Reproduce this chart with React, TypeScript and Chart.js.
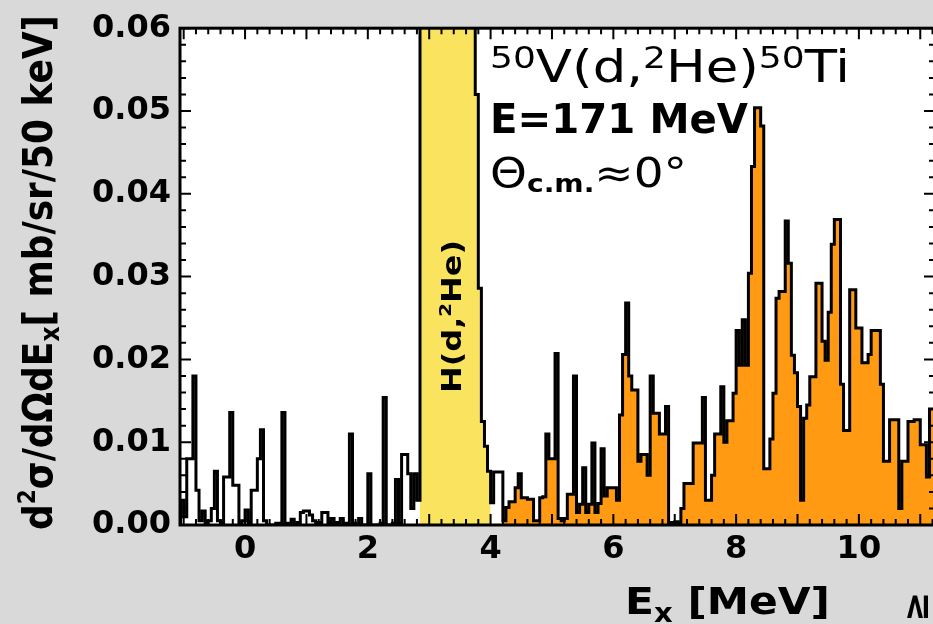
import React, { useEffect, useRef } from "react";
import { Chart, registerables } from "chart.js";

Chart.register(...registerables);

// Histogram binning (50 keV bins)
const BIN_START_MEV = -1.05;
const BIN_WIDTH_MEV = 0.05;

// bins from -1.05 MeV up to 2.85 MeV (white region)
const countsBelowPeak = [
  0.003, 0.001, 0.008, 0.008, 0.018, 0.0042, 0.0005, 0.0017, 0.0003, 0.0005,
  0.002, 0.0065, 0.0005, 0.0003, 0.0058, 0.0058, 0.0136, 0.0048, 0.0048, 0.0003,
  0.0005, 0.0018, 0.0003, 0.0042, 0.0042, 0.008, 0.0115, 0.0005, 0, 0,
  0, 0.0002, 0.0002, 0.0136, 0.0002, 0, 0.0007, 0, 0.0003, 0.0015,
  0.0017, 0.0017, 0.0012, 0.0005, 0.0003, 0.0003, 0.0015, 0.0015, 0.0003, 0.0008,
  0.0003, 0.0003, 0.0008, 0.0002, 0.0002, 0.011, 0.0002, 0, 0.0008, 0,
  0, 0.0062, 0, 0, 0, 0.0002, 0.0154, 0, 0, 0.0002,
  0.0055, 0.0002, 0.0085, 0.0085, 0.0062, 0.002, 0.0062, 0.003,
];

// H(d,2He) contamination peak, 2.85 MeV .. 4.0 MeV (yellow)
const countsHydrogenPeak = [
  0.075, 0.075, 0.075, 0.075, 0.075, 0.075, 0.075, 0.075, 0.075, 0.075,
  0.075, 0.075, 0.075, 0.075, 0.075, 0.075, 0.075, 0.075,
  0.052, 0.0286, 0.0125, 0.0095, 0.0065,
];

// short gap after the peak (white)
const countsGap = [0.0027, 0.0064, 0.0064, 0.0064];

// 50Ti states, from 4.2 MeV upward (orange)
const countsAbove = [
  0.0005, 0.0021, 0.0028, 0.0028, 0.0045, 0.0062, 0.0033, 0.0033, 0.0031, 0.0031,
  0.0005, 0.0005, 0.0033, 0.0034, 0.011, 0.008, 0.008, 0.0207, 0.0008, 0.0005,
  0.0008, 0.0037, 0.0037, 0.018, 0.0015, 0.0025, 0.0069, 0.0015, 0.0025, 0.0099,
  0.0015, 0.0026, 0.0092, 0.0035, 0.0045, 0.0045, 0.0045, 0.003, 0.0133, 0.0206,
  0.0268, 0.018, 0.0163, 0.0163, 0.0077, 0.0085, 0.0085, 0.006, 0.018, 0.0135,
  0.0135, 0.011, 0.011, 0.0143, 0.0003, 0.0003, 0.0004, 0.0002, 0.002, 0.005,
  0.005, 0.005, 0.0099, 0.0099, 0.0099, 0.0154, 0.003, 0.003, 0.006, 0.011,
  0.011, 0.0167, 0.01, 0.0126, 0.0126, 0.0159, 0.0235, 0.0193, 0.0248, 0.0193,
  0.0304, 0.0433, 0.0504, 0.0504, 0.0482, 0.0068, 0.0068, 0.0104, 0.0159, 0.0274,
  0.0282, 0.0282, 0.0367, 0.0316, 0.0205, 0.0184, 0.0143, 0.003, 0.0129, 0.0145,
  0.0179, 0.0179, 0.0292, 0.0292, 0.0222, 0.0199, 0.0257, 0.0339, 0.0369, 0.0369,
  0.017, 0.0114, 0.0114, 0.0284, 0.0284, 0.0238, 0.0238, 0.0196, 0.0196, 0.0206,
  0.0235, 0.0235, 0.0235, 0.017, 0.0077, 0.0077, 0.0127, 0.0127, 0.0127, 0.002,
  0.0077, 0.0077, 0.0125, 0.0125, 0.0127, 0.0127, 0.0097, 0.0097, 0.0058, 0.014,
  0.014,
];

const xTickLabels = [0, 2, 4, 6, 8, 10];
const yTickValues = [0, 0.01, 0.02, 0.03, 0.04, 0.05, 0.06];

const X_MIN = -1.06;
const X_MAX = 11.24;
const Y_MIN = 0;
const Y_MAX = 0.06;
const X_MINOR = 0.2;
const Y_MINOR = 0.002;

const FONT = '"DejaVu Sans"';

type Pt = { x: number; y: number };

function stepPoints(counts: number[], startIndex: number): Pt[] {
  const pts = counts.map((v, k) => ({
    x: BIN_START_MEV + (startIndex + k) * BIN_WIDTH_MEV,
    y: v,
  }));
  pts.push({
    x: BIN_START_MEV + (startIndex + counts.length) * BIN_WIDTH_MEV,
    y: counts[counts.length - 1],
  });
  return pts;
}

type Seg = { text: string; size: number; weight?: string; dy?: number };

function drawRich(
  ctx: CanvasRenderingContext2D,
  segs: Seg[],
  x: number,
  y: number,
  targetWidth: number | null,
  rotate = 0
) {
  ctx.save();
  ctx.translate(x, y);
  if (rotate) ctx.rotate(rotate);
  let total = 0;
  const widths = segs.map((s) => {
    ctx.font = `${s.weight ?? "normal"} ${s.size}px ${FONT}`;
    const w = ctx.measureText(s.text).width;
    total += w;
    return w;
  });
  const sx = targetWidth ? targetWidth / total : 1;
  ctx.scale(sx, 1);
  ctx.fillStyle = "#000";
  ctx.textBaseline = "alphabetic";
  ctx.textAlign = "left";
  let cx = 0;
  segs.forEach((s, k) => {
    ctx.font = `${s.weight ?? "normal"} ${s.size}px ${FONT}`;
    ctx.fillText(s.text, cx, s.dy ?? 0);
    cx += widths[k];
  });
  ctx.restore();
}

const framePlugin = {
  id: "frameAndTicks",
  beforeDatasetsDraw(chart: any) {
    const { ctx, chartArea: a } = chart;
    ctx.save();
    ctx.fillStyle = "#ffffff";
    ctx.fillRect(a.left, a.top, a.right - a.left, a.bottom - a.top);
    ctx.restore();
  },
  afterDatasetsDraw(chart: any) {
    const { ctx, chartArea: a, scales } = chart;
    const xs = scales.x;
    const ys = scales.y;
    ctx.save();
    ctx.strokeStyle = "#000";
    ctx.lineWidth = 2;
    ctx.beginPath();
    for (let k = Math.ceil(X_MIN / X_MINOR); k <= Math.floor(X_MAX / X_MINOR); k++) {
      const px = xs.getPixelForValue(k * X_MINOR);
      const len = k % 5 === 0 ? 11 : 6;
      ctx.moveTo(px, a.bottom);
      ctx.lineTo(px, a.bottom - len);
      ctx.moveTo(px, a.top);
      ctx.lineTo(px, a.top + len);
    }
    for (let k = 0; k <= Math.round(Y_MAX / Y_MINOR); k++) {
      const py = ys.getPixelForValue(k * Y_MINOR);
      const len = k % 5 === 0 ? 11 : 6;
      ctx.moveTo(a.left, py);
      ctx.lineTo(a.left + len, py);
      ctx.moveTo(a.right, py);
      ctx.lineTo(a.right - len, py);
    }
    ctx.stroke();
    ctx.lineWidth = 3;
    ctx.strokeRect(a.left, a.top, a.right - a.left, a.bottom - a.top);
    ctx.restore();
  },
  afterDraw(chart: any) {
    const ctx: CanvasRenderingContext2D = chart.ctx;
    // y-axis title
    drawRich(
      ctx,
      [
        { text: "d", size: 40, weight: "bold" },
        { text: "2", size: 24, weight: "bold", dy: -17 },
        { text: "σ/dΩdE", size: 40, weight: "bold" },
        { text: "x", size: 26, weight: "bold", dy: 7 },
        { text: "[ mb/sr/50 keV]", size: 40, weight: "bold" },
      ],
      52,
      530,
      515,
      -Math.PI / 2
    );
    // x-axis title
    drawRich(
      ctx,
      [
        { text: "E", size: 38, weight: "bold" },
        { text: "x", size: 26, weight: "bold", dy: 8 },
        { text: " [MeV]", size: 38, weight: "bold" },
      ],
      625,
      614,
      205
    );
    // cut-off symbol at bottom right
    drawRich(ctx, [{ text: "≥", size: 36, weight: "bold" }], 928, 622, null, -Math.PI / 2);
    // reaction annotation
    drawRich(
      ctx,
      [
        { text: "50", size: 30, dy: -14 },
        { text: "V(d,", size: 44 },
        { text: "2", size: 30, dy: -14 },
        { text: "He)", size: 44 },
        { text: "50", size: 30, dy: -14 },
        { text: "Ti", size: 44 },
      ],
      490,
      82,
      360
    );
    drawRich(ctx, [{ text: "E=171 MeV", size: 40, weight: "bold" }], 490, 133, 258);
    drawRich(
      ctx,
      [
        { text: "Θ", size: 40 },
        { text: "c.m.", size: 24, weight: "bold", dy: 5 },
        { text: "≈0°", size: 40 },
      ],
      490,
      187,
      197
    );
    // label inside the hydrogen peak
    drawRich(
      ctx,
      [
        { text: "H(d,", size: 26, weight: "bold" },
        { text: "2", size: 16, weight: "bold", dy: -10 },
        { text: "He)", size: 26, weight: "bold" },
      ],
      461,
      393,
      153,
      -Math.PI / 2
    );
  },
};

export default function App() {
  const canvasRef = useRef<HTMLCanvasElement | null>(null);

  useEffect(() => {
    if (!canvasRef.current) return;
    const allCounts = [...countsBelowPeak, ...countsHydrogenPeak, ...countsGap, ...countsAbove];
    const outline = [{ x: BIN_START_MEV, y: 0 }, ...stepPoints(allCounts, 0)];
    const hStart = countsBelowPeak.length;
    const highStart = hStart + countsHydrogenPeak.length + countsGap.length;

    const fillDefaults = {
      type: "line" as const,
      borderWidth: 0,
      borderColor: "rgba(0,0,0,0)",
      stepped: true,
      pointRadius: 0,
      fill: "origin",
    };

    const chart = new Chart(canvasRef.current, {
      type: "line",
      data: {
        datasets: [
          {
            label: "spectrum",
            data: outline,
            borderColor: "#000000",
            borderWidth: 3,
            stepped: true,
            pointRadius: 0,
            fill: false,
          },
          {
            ...fillDefaults,
            label: "H(d,2He)",
            data: stepPoints(countsHydrogenPeak, hStart),
            backgroundColor: "#f9e35f",
          },
          {
            ...fillDefaults,
            label: "50Ti",
            data: stepPoints(countsAbove, highStart),
            backgroundColor: "#ff9a12",
          },
        ] as any,
      },
      options: {
        animation: false,
        responsive: true,
        maintainAspectRatio: false,
        layout: { padding: { left: 0, top: 21, right: 25, bottom: 0 } },
        plugins: {
          legend: { display: false },
          tooltip: { enabled: false },
        },
        scales: {
          x: {
            type: "linear",
            min: X_MIN,
            max: X_MAX,
            grid: { display: false, drawTicks: false },
            border: { display: false },
            afterBuildTicks: (s: any) => {
              s.ticks = xTickLabels.map((v) => ({ value: v }));
            },
            afterFit: (s: any) => {
              s.height = 99;
            },
            ticks: {
              padding: 5,
              color: "#000",
              maxRotation: 0,
              autoSkip: false,
              font: { family: FONT, size: 32, weight: "bold" },
              callback: (v: any) => String(v),
            },
          },
          y: {
            type: "linear",
            min: Y_MIN,
            max: Y_MAX,
            grid: { display: false, drawTicks: false },
            border: { display: false },
            afterBuildTicks: (s: any) => {
              s.ticks = yTickValues.map((v) => ({ value: v }));
            },
            afterFit: (s: any) => {
              s.width = 180;
            },
            ticks: {
              padding: 9,
              color: "#000",
              autoSkip: false,
              font: { family: FONT, size: 32, weight: "bold" },
              callback: (v: any) => Number(v).toFixed(2),
            },
          },
        },
      } as any,
      plugins: [framePlugin],
    });
    return () => chart.destroy();
  }, []);

  return (
    <div
      style={{
        position: "fixed",
        left: 0,
        top: 0,
        width: "960px",
        height: "624px",
        background: "#d9d9d9",
      }}
    >
      <canvas ref={canvasRef} />
    </div>
  );
}
